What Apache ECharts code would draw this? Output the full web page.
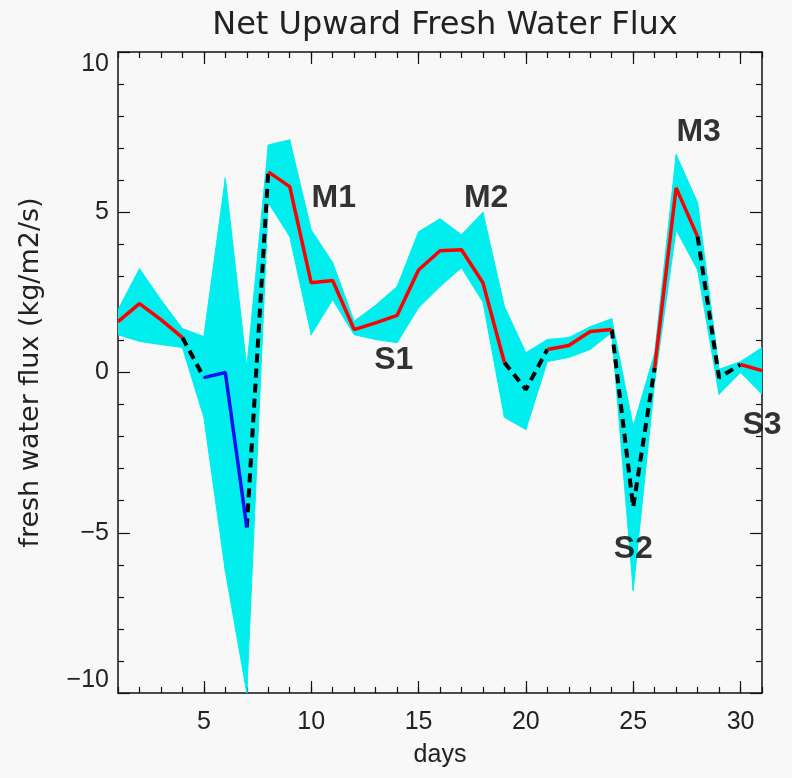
<!DOCTYPE html>
<html>
<head>
<meta charset="utf-8">
<script src="https://cdn.jsdelivr.net/npm/echarts@6/dist/echarts.min.js"></script>
<style>
  html, body { margin: 0; padding: 0; background: #f8f8f8; }
  #chart { width: 792px; height: 778px; }
</style>
</head>
<body>
<div id="chart"></div>
<script>
// daily net upward fresh water flux (kg/m2/s), days 1..31
const days = Array.from({ length: 31 }, (_, i) => i + 1)
const flux = [1.59, 2.15, 1.65, 1.09, -0.16, 0.0, -4.83, 6.26, 5.8, 2.8, 2.87, 1.34, 1.55, 1.78, 3.2, 3.8,
  3.83, 2.8, 0.31, -0.53, 0.72, 0.84, 1.28, 1.34, -4.2, 0.15, 5.76, 4.24, -0.16, 0.25, 0.06]
// spread band
const upper = [1.96, 3.24, 2.27, 1.37, 1.12, 6.07, 0.15, 7.1, 7.26, 4.45, 3.43, 1.6, 2.1, 2.68, 4.39, 4.8,
  4.3, 5.0, 2.06, 0.62, 1.03, 1.09, 1.43, 1.68, -1.68, 0.6, 6.8, 5.3, 0.1, 0.34, 0.78]
const lower = [1.18, 0.97, 0.87, 0.78, -1.4, -6.2, -10.0, 5.3, 4.24, 1.18, 2.27, 1.18, 1.03, 0.93, 2.02, 2.68,
  3.27, 2.2, -1.4, -1.78, 0.34, 0.47, 0.72, 1.25, -6.8, -0.3, 4.45, 3.2, -0.68, 0.0, -0.68]
// which days belong to each line piece [firstDay, lastDay]
const redRuns = [[1, 4], [8, 19], [21, 24], [26, 28], [30, 31]]
const blueRuns = [[5, 7]]
const dashRuns = [[4, 5], [7, 8], [19, 21], [24, 26], [28, 30]]
// M = maxima, S = minima
const markNames = ['M1', 'M2', 'M3', 'S1', 'S2', 'S3']
const markDays = [11.05, 18.15, 28.05, 13.85, 25.0, 31.0]
const markValues = [5.45, 5.45, 7.5, 0.4, -5.5, -1.65]
const majorDays = [5, 10, 15, 20, 25, 30]

function runData (runs) {
  return days.map((d, i) => {
    const on = runs.some(([a, b]) => d >= a && d <= b)
    return [d, on ? flux[i] : null]
  })
}

const axisColor = '#111'
const tickFont = { fontFamily: 'Liberation Sans', fontSize: 25, color: '#222' }

function xAx (position, major, labels) {
  return {
    type: 'value', min: 1, max: 31, interval: 1, position,
    axisLine: { show: !major, onZero: false, lineStyle: { color: axisColor, width: 1.5 } },
    axisTick: major
      ? { show: true, inside: true, length: 12, customValues: majorDays, lineStyle: { color: axisColor, width: 1.2 } }
      : { show: true, inside: true, length: 6, lineStyle: { color: axisColor, width: 1.2 } },
    axisLabel: labels ? { ...tickFont, margin: 17, customValues: majorDays } : { show: false },
    splitLine: { show: false },
    name: labels ? 'days' : '',
    nameLocation: 'middle',
    nameGap: 50,
    nameTextStyle: { fontFamily: 'Liberation Sans', fontSize: 25, color: '#222' }
  }
}

function yAx (position, labels) {
  return {
    type: 'value', min: -10, max: 10, interval: 5, position,
    axisLine: { show: true, onZero: false, lineStyle: { color: axisColor, width: 1.5 } },
    axisTick: { inside: true, length: 12, lineStyle: { color: axisColor, width: 1.2 } },
    minorTick: { show: true, splitNumber: 5, length: 6, lineStyle: { color: axisColor, width: 1.2 } },
    axisLabel: labels
      ? {
          ...tickFont, margin: 9,
          verticalAlignMaxLabel: 'top', verticalAlignMinLabel: 'bottom',
          formatter: v => (v < 0 ? '\u2212' + Math.abs(v) : String(v))
        }
      : { show: false },
    splitLine: { show: false },
    name: labels ? 'fresh water flux (kg/m2/s)' : '',
    nameLocation: 'middle',
    nameGap: 74,
    nameTextStyle: { fontFamily: 'DejaVu Sans', fontSize: 27, color: '#222' }
  }
}

// band piece between day i and day i+1
function renderBand (params, api) {
  const i = params.dataIndexInside
  if (i >= params.dataInsideLength - 1) return null
  const p = [
    api.coord([api.value(0, i), api.value(2, i)]),
    api.coord([api.value(0, i + 1), api.value(2, i + 1)]),
    api.coord([api.value(0, i + 1), api.value(1, i + 1)]),
    api.coord([api.value(0, i), api.value(1, i)])
  ]
  return {
    type: 'polygon',
    shape: { points: p },
    style: { fill: '#00eeee', stroke: '#00eeee', lineWidth: 1 }
  }
}

const chart = echarts.init(document.getElementById('chart'), null, { renderer: 'canvas' })

const option = {
  backgroundColor: '#f8f8f8',
  animation: false,
  title: {
    text: 'Net Upward Fresh Water Flux',
    left: 440,
    textAlign: 'center',
    top: 5,
    textStyle: { fontFamily: 'DejaVu Sans', fontSize: 32, fontWeight: 'normal', color: '#222' }
  },
  grid: { left: 118, right: 30, top: 52, bottom: 85 },
  xAxis: [xAx('bottom', false, true), xAx('bottom', true, false), xAx('top', false, false), xAx('top', true, false)],
  yAxis: [yAx('left', true), yAx('right', false)],
  series: [
    {
      name: 'band', type: 'custom', renderItem: renderBand, clip: true, z: 1,
      data: days.map((d, i) => [d, lower[i], upper[i]])
    },
    {
      name: 'dashed', type: 'line', data: runData(dashRuns), symbol: 'none',
      lineStyle: { color: '#000', width: 4, type: [9, 6] }, z: 3
    },
    {
      name: 'blue', type: 'line', data: runData(blueRuns), symbol: 'none',
      lineStyle: { color: '#1010f0', width: 3.5 }, z: 3
    },
    {
      name: 'red', type: 'line', data: runData(redRuns), symbol: 'none',
      lineStyle: { color: '#ff0000', width: 3.5 }, z: 3
    },
    {
      name: 'marks', type: 'scatter', clip: false, symbolSize: 0, z: 5,
      data: markNames.map((n, i) => ({ name: n, value: [markDays[i], markValues[i]] })),
      label: {
        show: true, position: 'inside', formatter: p => p.name,
        fontFamily: 'Liberation Sans', fontWeight: 'bold', fontSize: 32, color: '#000',
        textBorderWidth: 0
      }
    }
  ]
}
chart.setOption(option)
</script>
</body>
</html>
